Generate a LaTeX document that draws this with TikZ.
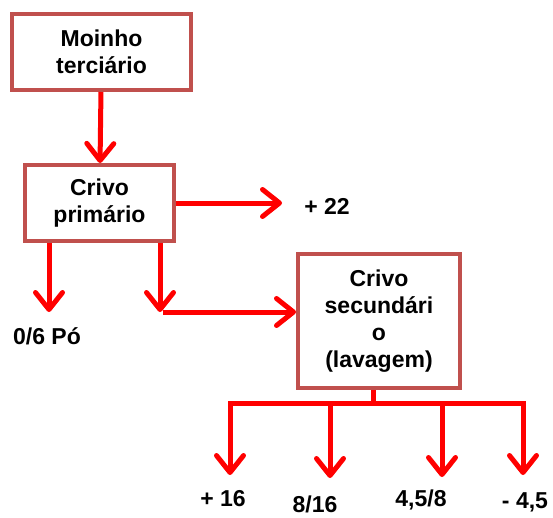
\documentclass[tikz,border=0pt]{standalone}
\usepackage{fontspec}
\setmainfont{Liberation Sans}
\usetikzlibrary{arrows.meta,positioning}
\definecolor{boxred}{RGB}{192,80,77}

\begin{document}
\begin{tikzpicture}[x=1pt,y=-1pt,
    >={Straight Barb[length=17pt,width=27pt,round]},
    every node/.style={font=\bfseries\fontsize{23}{27}\selectfont},
    box/.style={draw=boxred,line width=4pt,fill=white,align=center,inner sep=0pt},
    flow/.style={draw=red,line width=5pt}]

    \useasboundingbox (0,0) rectangle (553,517);

    \node[box,minimum width=179pt,minimum height=76pt] (moinho)     at (101.5,52) {Moinho\\terciário};
    \node[box,minimum width=149pt,minimum height=76pt] (crivo_1)    at (99.5,203) {Crivo\\primário};
    \node[box,minimum width=162pt,minimum height=134pt](secundario) at (379,321)  {Crivo\\secundári\\o\\(lavagem)};

    % produtos
    \node (p22)  at (327,206) {+ 22};
    \node (p06)  at (47,336)  {0/6 Pó};
    \node (p16)  at (223,499) {+ 16};
    \node (p816) at (315,504) {8/16};
    \node (p458) at (421,500) {4,5/8};
    \node (m45)  at (525,502) {- 4,5};

    % pontas das setas
    \coordinate (t22) at (282,203);
    \coordinate (t1)  at (49,312);
    \coordinate (t2)  at (160,312);
    \coordinate (j)   at (163,312);
    \coordinate (bus) at (373,403);
    \coordinate (a1)  at (230,475);
    \coordinate (a2)  at (330,478);
    \coordinate (a3)  at (442,477);
    \coordinate (a4)  at (523,475);

    \draw[flow,->] (moinho) -- (crivo_1);
    \draw[flow,->] (crivo_1) -- (t22);
    \draw[flow,->] (crivo_1.south -| t1) -- (t1);
    \draw[flow,->] (crivo_1.south -| t2) -- (t2);
    \draw[flow,->] (j) -- (j -| secundario.west);

    \draw[flow] (secundario.south -| bus) -- (bus);
    \draw[flow,->] (bus) -| (a1);
    \draw[flow,->] (bus) -| (a4);
    \draw[flow,->] (bus -| a2) -- (a2);
    \draw[flow,->] (bus -| a3) -- (a3);
\end{tikzpicture}
\end{document}
